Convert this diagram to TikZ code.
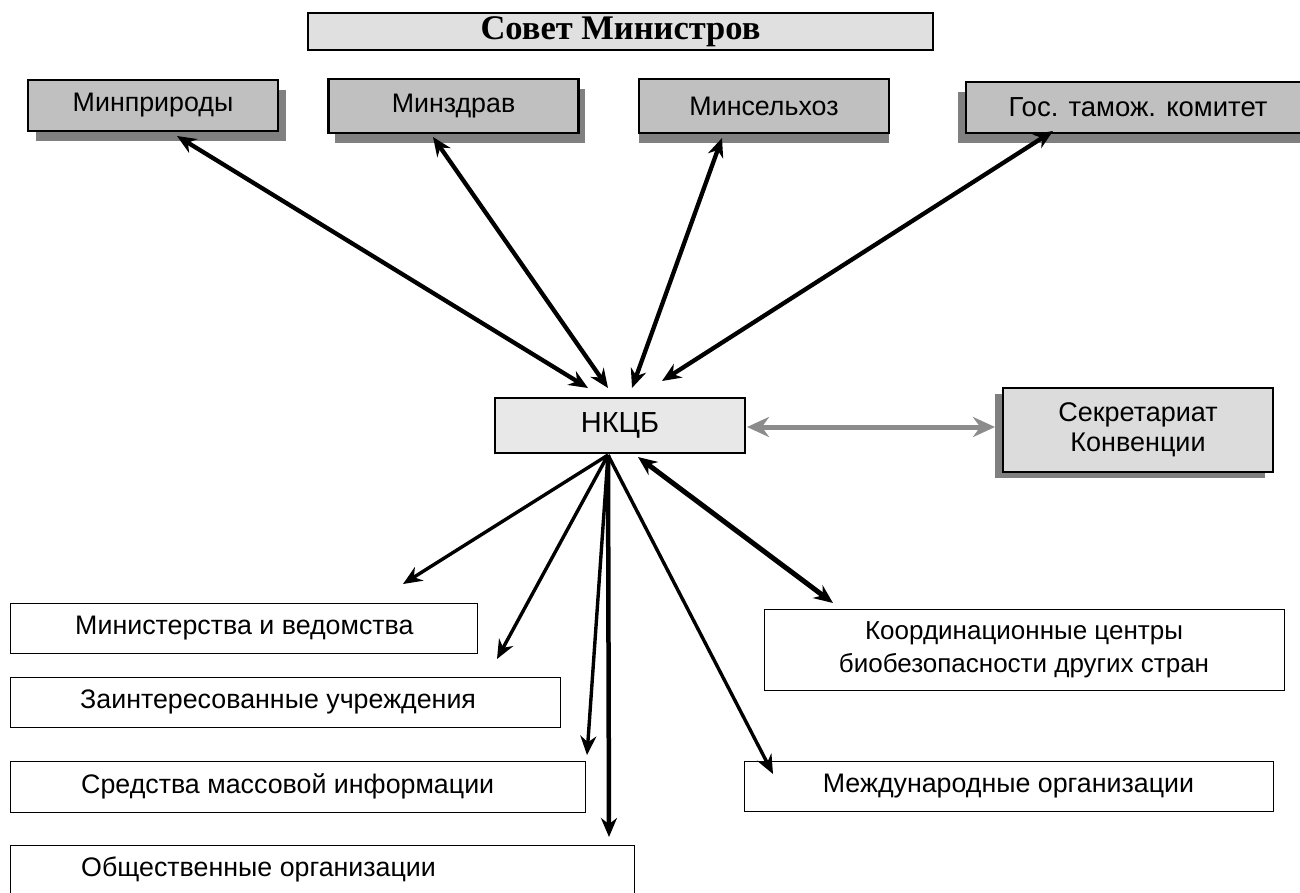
\documentclass[tikz,border=0pt]{standalone}
\usepackage{fontspec}
\setmainfont{Liberation Sans}
\newfontfamily\serifb{Liberation Serif}
\usetikzlibrary{arrows.meta,shadows}
\definecolor{boxgray}{HTML}{C0C0C0}
\definecolor{lightbox}{HTML}{E0E0E0}
\definecolor{nkbox}{HTML}{E8E8E8}
\definecolor{secbox}{HTML}{DCDCDC}
\definecolor{shadowgray}{HTML}{808080}
\definecolor{linkgray}{HTML}{8C8C8C}
\begin{document}
\begin{tikzpicture}[x=1pt,y=-1pt,
  txt/.style={font=\fontsize{26.8}{31}\selectfont},
  minbox/.style={txt,draw=black,line width=2.2pt,fill=boxgray,inner sep=0pt},
  shd/.style={drop shadow={shadow xshift=#1,shadow yshift=-10pt,fill=shadowgray,opacity=1}},
  plainbox/.style={txt,draw=black,line width=1pt,fill=white,inner sep=0pt,align=center},
  leftbox/.style={draw=black,line width=1pt,fill=white,inner sep=0pt},
  dbl/.style={line width=4.3pt,{Stealth[length=19pt,width=16pt]}-{Stealth[length=19pt,width=16pt]}},
  sgl/.style={line width=3.4pt,-{Stealth[length=19pt,width=16pt]}},
]
\useasboundingbox (0,0) rectangle (1300,892);

% top
\node[draw=black,line width=2.2pt,fill=lightbox,inner sep=0pt,minimum width=625pt,minimum height=37pt,
  font=\serifb\bfseries\fontsize{34.5}{37}\selectfont] (sovet) at (620.5,31.5) {Совет Министров};

\node[minbox,shd=8pt,minimum width=250pt,minimum height=51pt] (minpr) at (153,105.5) {Минприроды};
\node[minbox,shd=6pt,minimum width=250pt,minimum height=54pt] (minzdr) at (453.5,106) {Минздрав};
\node[minbox,shd=0pt,minimum width=250pt,minimum height=54pt] (minsel) at (764,106) {Минсельхоз};
\node[minbox,shd=-8pt,minimum width=344pt,minimum height=51pt,font=\fontsize{27.5}{31}\selectfont] (gtk) at (1138,107.5) {Гос. тамож. комитет};

% centre
\node[draw=black,line width=2.2pt,fill=nkbox,inner sep=0pt,minimum width=250pt,minimum height=55pt,
  font=\fontsize{29}{33}\selectfont] (nkcb) at (620,425.5) {НКЦБ};
\node[minbox,fill=secbox,align=center,minimum width=270pt,minimum height=84pt,
  font=\fontsize{27}{30.5}\selectfont,
  drop shadow={shadow xshift=-8pt,shadow yshift=-6pt,fill=shadowgray,opacity=1}] (sekr) at (1138,430) {Секретариат\\Конвенции};

% bottom left
\node[leftbox,minimum width=467pt,minimum height=50pt] (minv) at (243.5,628) {};
\node[txt,anchor=west,inner sep=0pt] at (75,628) {Министерства и ведомства};
\node[leftbox,minimum width=550pt,minimum height=50pt] (zain) at (285,702) {};
\node[txt,anchor=west,inner sep=0pt] at (80,702) {Заинтересованные учреждения};
\node[leftbox,minimum width=575pt,minimum height=51pt] (smi) at (297.5,786.5) {};
\node[txt,anchor=west,inner sep=0pt] at (81,786.5) {Средства массовой информации};
\node[leftbox,minimum width=624pt,minimum height=52pt] (obsh) at (322,871) {};
\node[txt,anchor=west,inner sep=0pt] at (81,869) {Общественные организации};

% bottom right
\node[plainbox,minimum width=520pt,minimum height=81pt,font=\fontsize{26}{32.5}\selectfont] (koord) at (1024,649.5) {Координационные центры\\биобезопасности других стран};
\node[plainbox,minimum width=529pt,minimum height=50pt] (mezh) at (1008.5,786) {Международные организации};

% free ends
\coordinate (t1) at (177,136);
\coordinate (t2) at (433,137);
\coordinate (t3) at (722,138);
\coordinate (t4) at (1053,131);
\coordinate (b1) at (588,388);
\coordinate (b2) at (608,388);
\coordinate (b3) at (632,388);
\coordinate (b4) at (662,381);
\coordinate (s0) at (608,455);
\coordinate (e1) at (403,584);
\coordinate (e2) at (497,659);
\coordinate (e3) at (587,755);
\coordinate (e4) at (609,837);
\coordinate (e5) at (773,774);
\coordinate (k0) at (638,457);
\coordinate (k1) at (833,603);
\coordinate (g0) at (747,427);
\coordinate (g1) at (995,427);

\draw[dbl] (t1) -- (b1);
\draw[dbl] (t2) -- (b2);
\draw[dbl] (t3) -- (b3);
\draw[dbl] (t4) -- (b4);

\draw[line width=5pt,draw=linkgray,{Stealth[length=22pt,width=20pt]}-{Stealth[length=22pt,width=20pt]}] (g0) -- (g1);

\draw[sgl] (s0) -- (e1);
\draw[sgl] (s0) -- (e2);
\draw[sgl] (s0) -- (e3);
\draw[sgl,line width=4.5pt] (s0) -- (e4);
\draw[sgl] (s0) -- (e5);
\draw[dbl,line width=5pt] (k0) -- (k1);
\end{tikzpicture}
\end{document}
